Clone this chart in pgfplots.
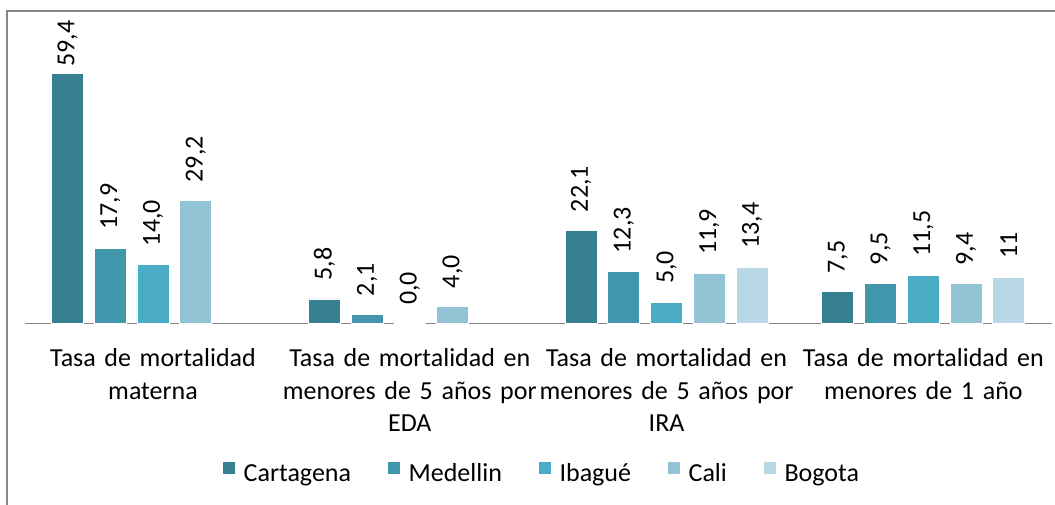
\documentclass[border=0pt]{standalone}
\usepackage{pgfplots}
\pgfplotsset{compat=1.18}
\usepackage{fontspec}
\setmainfont{Carlito}
\definecolor{cA}{RGB}{55,127,146}
\definecolor{cB}{RGB}{67,151,173}
\definecolor{cC}{RGB}{75,172,198}
\definecolor{cD}{RGB}{147,196,213}
\definecolor{cE}{RGB}{183,216,228}
\definecolor{frame}{RGB}{134,134,134}
\newcommand{\bigf}{\fontsize{26}{32}\selectfont}
\begin{document}
\begin{tikzpicture}[x=1pt,y=1pt,font=\bigf]
\begin{axis}[
  at={(0,0)}, anchor=south west,
  scale only axis, width=1027.2pt, height=294pt,
  xmin=-0.5, xmax=3.5, ymin=0, ymax=70,
  clip=false,
  axis y line=none, axis x line*=bottom,
  axis line style={draw=frame, line width=1.2pt},
  xtick={0,1,2,3},
  xticklabels={{Tasa de mortalidad\\materna},{Tasa de mortalidad en\\menores de 5 años por\\EDA},{Tasa de mortalidad en\\menores de 5 años por\\IRA},{Tasa de mortalidad en\\menores de 1 año}},
  xtick style={draw=none}, major tick length=0pt,
  xticklabel style={text width=270pt, align=center, inner sep=0pt, yshift=-25pt, font=\fontsize{26}{32.5}\selectfont},
  ybar=10.75pt, bar width=32pt,
  every axis plot/.append style={draw=white, line width=0.8pt},
  visualization depends on={rawy \as \rawy},
  nodes near coords={\bigf\pgfplotspointmeta}, point meta=explicit symbolic,
  every node near coord/.append style={rotate=90, anchor=west, text=black, font=\bigf,
    inner ysep=0pt, inner xsep={ifthenelse(\rawy>50,7,18)}},
  legend columns=5,
  legend image code/.code={\fill[#1,draw=none] (0pt,0pt) rectangle (12pt,12pt);},
  legend style={at={(0.1931,-0.5075)}, anchor=west, draw=none, fill=none, inner sep=0pt,
    font=\bigf,
    /tikz/every odd column/.append style={column sep=8.6pt},
    /tikz/every even column/.append style={column sep=37pt},
    nodes={inner sep=0pt}},
]
\addplot[fill=cA] coordinates {(0,59.4) [59,4] (1,5.8) [5,8] (2,22.1) [22,1] (3,7.5) [7,5]};
\addplot[fill=cB] coordinates {(0,17.9) [17,9] (1,2.1) [2,1] (2,12.3) [12,3] (3,9.5) [9,5]};
\addplot[fill=cC] coordinates {(0,14.0) [14,0] (1,0.0) [0,0] (2,5.0) [5,0] (3,11.5) [11,5]};
\addplot[fill=cD] coordinates {(0,29.2) [29,2] (1,4.0) [4,0] (2,11.9) [11,9] (3,9.4) [9,4]};
\addplot[fill=cE] coordinates {(2,13.4) [13,4] (3,11) [11]};
\legend{Cartagena,Medellin,Ibagué,Cali,Bogota}
\coordinate (O) at (rel axis cs:0,0);
\end{axis}
\draw[color=frame, line width=1.5pt] ([shift={(-17.6,-190)}]O) -- ([shift={(-17.6,312.3)}]O) -- ([shift={(1040,312.3)}]O);
\pgfresetboundingbox
\useasboundingbox ([shift={(-24.6,-180.7)}]O) rectangle ([shift={(1030.4,323.3)}]O);
\end{tikzpicture}
\end{document}
